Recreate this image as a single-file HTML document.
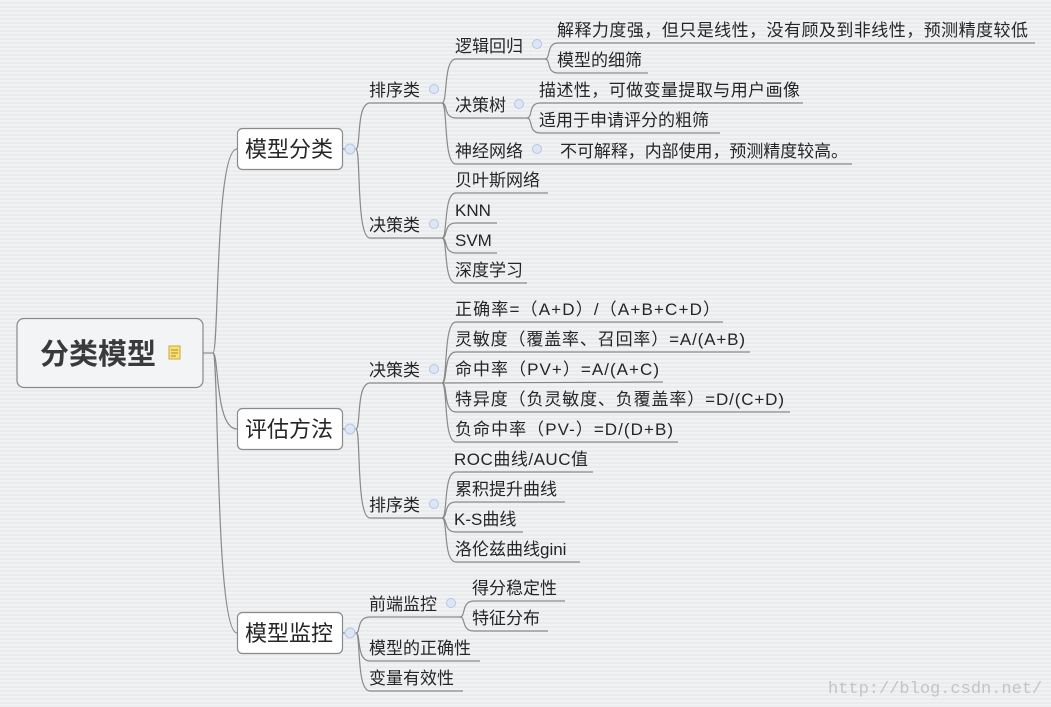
<!DOCTYPE html>
<html><head><meta charset="utf-8"><style>
html,body{margin:0;padding:0;background:#eeeff1;}
svg{display:block;}
text{font-family:"Liberation Sans","Noto Sans CJK SC",sans-serif;fill:#262626;}
.l{font-size:17px;}
.m{font-size:17px;}
.b{font-size:22px;}
path{fill:none;stroke:#8a8a8a;stroke-width:1.2;}
.c{fill:#dde6f5;stroke:#b5c6e3;stroke-width:1;}
</style></head><body>
<svg width="1051" height="707" viewBox="0 0 1051 707" xmlns="http://www.w3.org/2000/svg">
<defs><pattern id="st" width="4" height="4" patternUnits="userSpaceOnUse"><rect width="4" height="2" fill="#f1f2f4"/><rect y="2" width="4" height="2" fill="#eaebed"/></pattern></defs>
<rect width="1051" height="707" fill="url(#st)"/>

<rect x="17" y="318.5" width="186" height="69" rx="7" fill="#f3f4f6" stroke="#8a8a8a" stroke-width="1.2"/>
<text x="40" y="364" style="font-size:29px;font-weight:bold;fill:#3a3a3a">分类模型</text>
<rect x="169" y="346" width="11" height="13" fill="#f7e27a" stroke="#c9a93a" stroke-width="1"/>
<path d="M171 350h7M171 353h7M171 356h5" style="stroke:#b08a20;stroke-width:1"/>

<path d="M203 353 L213 353"/>
<path d="M213 353 C219 353 215 149 237 149"/>
<path d="M213 353 C219 353 215 429 237 429"/>
<path d="M213 353 C219 353 215 633 237 633"/>

<rect x="237.5" y="128.5" width="105" height="41" rx="5" fill="#fff" stroke="#8a8a8a" stroke-width="1.2"/>
<text x="245" y="157" class="b">模型分类</text>
<rect x="237.5" y="408.5" width="105" height="41" rx="5" fill="#fff" stroke="#8a8a8a" stroke-width="1.2"/>
<text x="245" y="437" class="b">评估方法</text>
<rect x="237.5" y="612.5" width="105" height="41" rx="5" fill="#fff" stroke="#8a8a8a" stroke-width="1.2"/>
<text x="245" y="641" class="b">模型监控</text>

<path d="M343 149 L356 149 C361 149 356 103 370 103 L442 103"/>
<path d="M356 149 C361 149 356 238 370 238 L442 238"/>
<path d="M343 429 L356 429 C361 429 356 383 370 383 L442 383"/>
<path d="M356 429 C361 429 356 518 370 518 L442 518"/>
<path d="M343 633 L356 633 C361 633 356 617 370 617 L460 617"/>
<path d="M356 633 C361 633 356 661 370 661 L480 661"/>
<path d="M356 633 C361 633 356 691 370 691 L463 691"/>

<circle class="c" cx="350" cy="149" r="5"/>
<circle class="c" cx="350" cy="429" r="5"/>
<circle class="c" cx="350" cy="633" r="5"/>

<text x="369" y="96" class="m">排序类</text><circle class="c" cx="434" cy="89" r="4.5"/>
<text x="369" y="231" class="m">决策类</text><circle class="c" cx="434" cy="224" r="4.5"/>
<text x="369" y="376" class="m">决策类</text><circle class="c" cx="434" cy="369" r="4.5"/>
<text x="369" y="511" class="m">排序类</text><circle class="c" cx="434" cy="504" r="4.5"/>
<text x="369" y="610" class="m">前端监控</text><circle class="c" cx="451" cy="603" r="4.5"/>
<text x="369" y="654" class="m">模型的正确性</text>
<text x="369" y="684" class="m">变量有效性</text>

<path d="M442 103 C448 103 443 59 456 59 L545 59"/>
<path d="M442 103 C448 103 443 118 456 118 L527 118"/>
<path d="M442 103 C448 103 443 164 456 164 L852 164"/>
<text x="455" y="52" class="m">逻辑回归</text><circle class="c" cx="537" cy="44" r="4.5"/>
<text x="455" y="111" class="m">决策树</text><circle class="c" cx="519" cy="104" r="4.5"/>
<text x="455" y="157" class="m">神经网络</text><circle class="c" cx="537" cy="149" r="4.5"/>
<text x="560" y="157" class="l" textLength="288" lengthAdjust="spacing">不可解释，内部使用，预测精度较高。</text>

<path d="M545 59 C551 59 546 43 558 43 L1035 43"/>
<path d="M545 59 C551 59 546 73 558 73 L648 73"/>
<text x="557" y="36" class="l" textLength="471" lengthAdjust="spacing">解释力度强，但只是线性，没有顾及到非线性，预测精度较低</text>
<text x="557" y="66" class="l">模型的细筛</text>

<path d="M527 118 C533 118 528 103 540 103 L803 103"/>
<path d="M527 118 C533 118 528 133 540 133 L720 133"/>
<text x="539" y="96" class="l" textLength="261" lengthAdjust="spacing">描述性，可做变量提取与用户画像</text>
<text x="539" y="126" class="l">适用于申请评分的粗筛</text>

<path d="M442 238 C448 238 443 193 456 193 L548 193"/>
<path d="M442 238 C448 238 443 223 456 223 L497 223"/>
<path d="M442 238 C448 238 443 253 456 253 L497 253"/>
<path d="M442 238 C448 238 443 283 456 283 L527 283"/>
<text x="455" y="186" class="l">贝叶斯网络</text>
<text x="455" y="216" class="l">KNN</text>
<text x="455" y="246" class="l">SVM</text>
<text x="455" y="276" class="l">深度学习</text>

<path d="M442 383 C448 383 443 322 456 322 L723 322"/>
<path d="M442 383 C448 383 443 352 456 352 L750 352"/>
<path d="M442 383 L663 382"/>
<path d="M442 383 C448 383 443 412 456 412 L790 412"/>
<path d="M442 383 C448 383 443 442 456 442 L678 442"/>
<text x="455" y="315" class="l" textLength="265" lengthAdjust="spacing">正确率=（A+D）/（A+B+C+D）</text>
<text x="455" y="345" class="l" textLength="290" lengthAdjust="spacing">灵敏度（覆盖率、召回率）=A/(A+B)</text>
<text x="455" y="375" class="l" textLength="204" lengthAdjust="spacing">命中率（PV+）=A/(A+C)</text>
<text x="455" y="405" class="l" textLength="329" lengthAdjust="spacing">特异度（负灵敏度、负覆盖率）=D/(C+D)</text>
<text x="455" y="435" class="l" textLength="218" lengthAdjust="spacing">负命中率（PV-）=D/(D+B)</text>

<path d="M442 518 C448 518 443 472 456 472 L593 472"/>
<path d="M442 518 C448 518 443 502 456 502 L565 502"/>
<path d="M442 518 C448 518 443 532 456 532 L523 532"/>
<path d="M442 518 C448 518 443 562 456 562 L580 562"/>
<text x="454" y="465" class="l" textLength="134" lengthAdjust="spacing">ROC曲线/AUC值</text>
<text x="455" y="495" class="l">累积提升曲线</text>
<text x="454" y="525" class="l">K-S曲线</text>
<text x="455" y="555" class="l">洛伦兹曲线gini</text>

<path d="M460 617 C466 617 461 601 474 601 L565 601"/>
<path d="M460 617 C466 617 461 631 474 631 L548 631"/>
<text x="472" y="594" class="l">得分稳定性</text>
<text x="472" y="624" class="l">特征分布</text>

<text x="828" y="693" style="font-family:'Liberation Mono',monospace;font-size:17px;fill:#c4c4c4">http://blog.csdn.net/</text>
</svg>
</body></html>
